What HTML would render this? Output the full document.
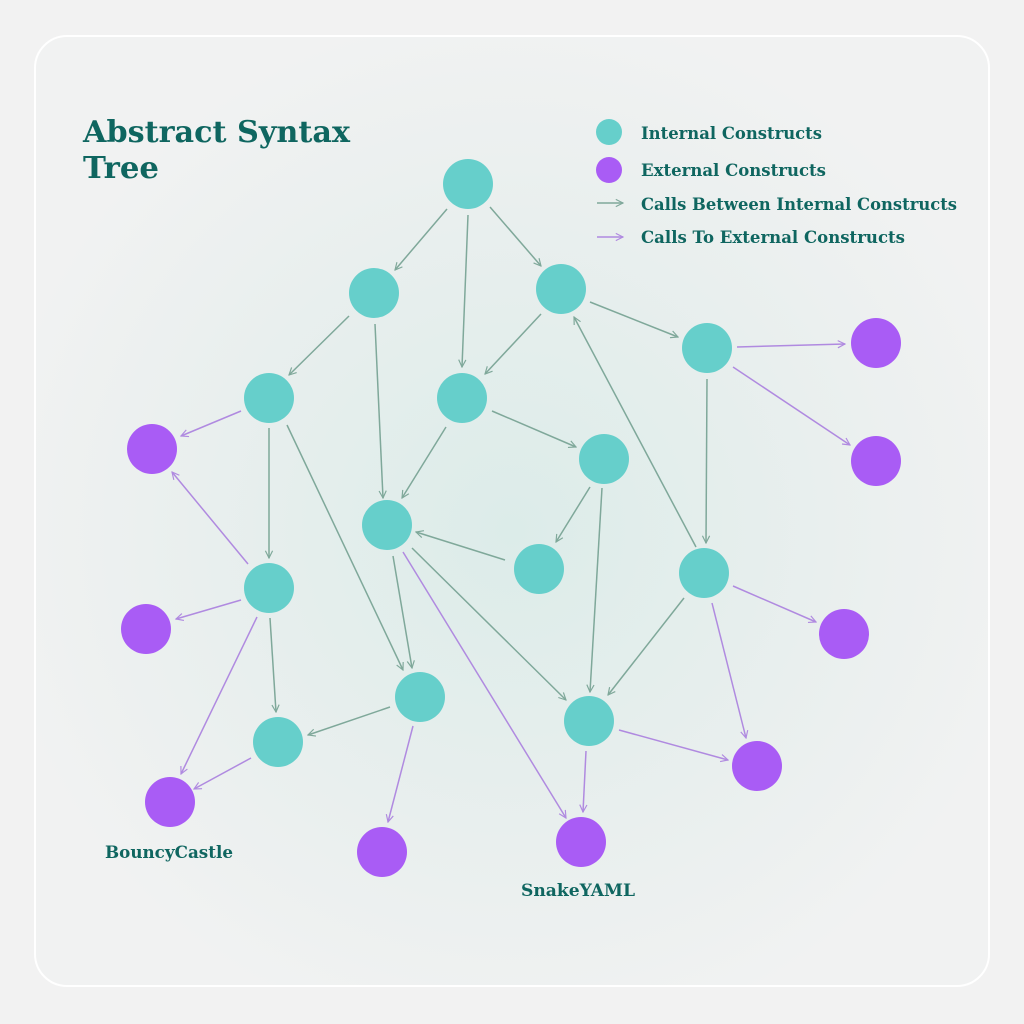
<!DOCTYPE html>
<html><head><meta charset="utf-8"><style>
html,body{margin:0;padding:0;background:#f2f2f2;}
svg{display:block}
text{font-family:"DejaVu Serif","Liberation Serif",serif;font-weight:bold;fill:#0f6660}
</style></head><body>
<svg width="1024" height="1024" viewBox="0 0 1024 1024">
<defs>
<radialGradient id="bg" cx="50%" cy="52%" r="55%">
<stop offset="0" stop-color="#dcece9"/><stop offset="0.6" stop-color="#e9efee"/><stop offset="1" stop-color="#f1f2f2"/>
</radialGradient>
<marker id="ag" viewBox="0 0 10 10" refX="9" refY="5" markerWidth="9" markerHeight="9" orient="auto" markerUnits="userSpaceOnUse"><path d="M1,1 L9,5 L1,9" fill="none" stroke="#7fa89a" stroke-width="1.3"/></marker>
<marker id="ap" viewBox="0 0 10 10" refX="9" refY="5" markerWidth="9" markerHeight="9" orient="auto" markerUnits="userSpaceOnUse"><path d="M1,1 L9,5 L1,9" fill="none" stroke="#b08ae0" stroke-width="1.3"/></marker>
</defs>
<rect x="0" y="0" width="1024" height="1024" fill="#f2f2f2"/>
<rect x="35" y="36" width="954" height="950" rx="32" fill="url(#bg)" stroke="#ffffff" stroke-width="2"/>
<text x="83" y="142" font-size="30" textLength="267" lengthAdjust="spacingAndGlyphs">Abstract Syntax</text>
<text x="83" y="178" font-size="30" textLength="76" lengthAdjust="spacingAndGlyphs">Tree</text>
<circle cx="609" cy="132" r="13" fill="#66cfcb"/>
<circle cx="609" cy="170" r="13" fill="#a95cf5"/>
<line x1="597" y1="203" x2="623" y2="203" stroke="#7fa89a" stroke-width="1.5" marker-end="url(#ag)"/>
<line x1="597" y1="237" x2="623" y2="237" stroke="#b08ae0" stroke-width="1.5" marker-end="url(#ap)"/>
<text x="641" y="139" font-size="17" textLength="181" lengthAdjust="spacingAndGlyphs">Internal Constructs</text>
<text x="641" y="176" font-size="17" textLength="185" lengthAdjust="spacingAndGlyphs">External Constructs</text>
<text x="641" y="210" font-size="17" textLength="316" lengthAdjust="spacingAndGlyphs">Calls Between Internal Constructs</text>
<text x="641" y="243" font-size="17" textLength="264" lengthAdjust="spacingAndGlyphs">Calls To External Constructs</text>
<g stroke="#7fa89a" stroke-width="1.5" marker-end="url(#ag)">
<line x1="447" y1="209" x2="395" y2="270"/>
<line x1="468" y1="215" x2="462" y2="367"/>
<line x1="490" y1="207" x2="541" y2="266"/>
<line x1="349" y1="316" x2="289" y2="375"/>
<line x1="375" y1="324" x2="383" y2="498"/>
<line x1="541" y1="314" x2="485" y2="374"/>
<line x1="590" y1="302" x2="678" y2="337"/>
<line x1="269" y1="428" x2="269" y2="558"/>
<line x1="287" y1="425" x2="403" y2="670"/>
<line x1="446" y1="427" x2="402" y2="498"/>
<line x1="492" y1="411" x2="576" y2="447"/>
<line x1="590" y1="487" x2="556" y2="542"/>
<line x1="602" y1="488" x2="590" y2="692"/>
<line x1="505" y1="560" x2="416" y2="532"/>
<line x1="696" y1="547" x2="574" y2="317"/>
<line x1="707" y1="379" x2="706" y2="543"/>
<line x1="684" y1="598" x2="608" y2="695"/>
<line x1="393" y1="556" x2="412" y2="668"/>
<line x1="412" y1="548" x2="566" y2="700"/>
<line x1="270" y1="618" x2="276" y2="712"/>
<line x1="390" y1="707" x2="308" y2="735"/>
</g>
<g stroke="#b08ae0" stroke-width="1.5" marker-end="url(#ap)">
<line x1="737" y1="347" x2="845" y2="344"/>
<line x1="733" y1="367" x2="850" y2="445"/>
<line x1="241" y1="411" x2="181" y2="436"/>
<line x1="248" y1="564" x2="172" y2="472"/>
<line x1="241" y1="600" x2="176" y2="619"/>
<line x1="257" y1="617" x2="181" y2="774"/>
<line x1="251" y1="758" x2="194" y2="789"/>
<line x1="413" y1="726" x2="388" y2="822"/>
<line x1="403" y1="552" x2="566" y2="818"/>
<line x1="586" y1="751" x2="583" y2="812"/>
<line x1="619" y1="730" x2="728" y2="760"/>
<line x1="733" y1="586" x2="816" y2="622"/>
<line x1="712" y1="603" x2="746" y2="738"/>
</g>
<g fill="#66cfcb">
<circle cx="468" cy="184" r="25"/><circle cx="374" cy="293" r="25"/><circle cx="561" cy="289" r="25"/>
<circle cx="707" cy="348" r="25"/><circle cx="269" cy="398" r="25"/><circle cx="462" cy="398" r="25"/>
<circle cx="604" cy="459" r="25"/><circle cx="387" cy="525" r="25"/><circle cx="539" cy="569" r="25"/>
<circle cx="704" cy="573" r="25"/><circle cx="269" cy="588" r="25"/><circle cx="420" cy="697" r="25"/>
<circle cx="589" cy="721" r="25"/><circle cx="278" cy="742" r="25"/>
</g>
<g fill="#a95cf5">
<circle cx="876" cy="343" r="25"/><circle cx="876" cy="461" r="25"/><circle cx="152" cy="449" r="25"/>
<circle cx="146" cy="629" r="25"/><circle cx="844" cy="634" r="25"/><circle cx="757" cy="766" r="25"/>
<circle cx="170" cy="802" r="25"/><circle cx="382" cy="852" r="25"/><circle cx="581" cy="842" r="25"/>
</g>
<text x="105" y="858" font-size="17" textLength="128" lengthAdjust="spacingAndGlyphs">BouncyCastle</text>
<text x="521" y="896" font-size="17" textLength="114" lengthAdjust="spacingAndGlyphs">SnakeYAML</text>
</svg>
</body></html>
